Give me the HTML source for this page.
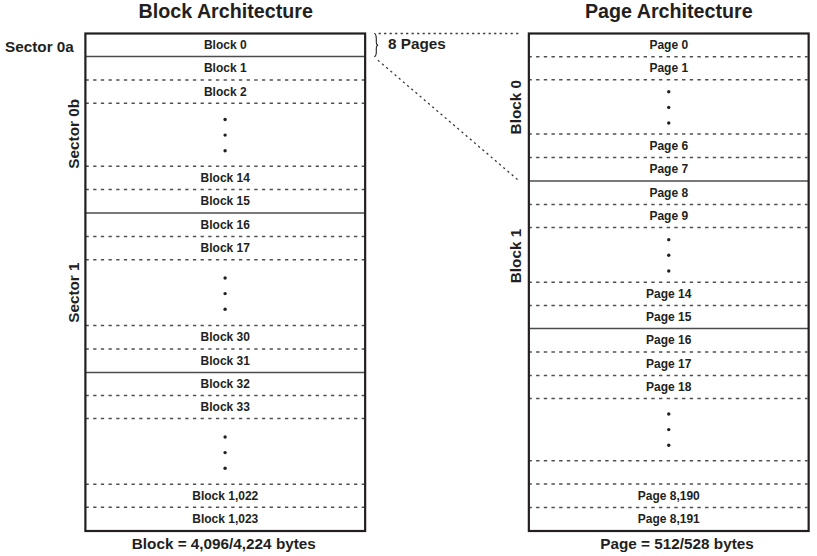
<!DOCTYPE html>
<html><head><meta charset="utf-8"><style>
html,body{margin:0;padding:0;background:#fff;width:817px;height:556px;overflow:hidden}
svg{display:block}
text{font-family:"Liberation Sans",sans-serif;font-weight:bold;fill:#231f20}
.cell{font-size:12px;text-anchor:middle}
.title{font-size:19.7px;text-anchor:middle}
.lab{font-size:15.3px}
.box{fill:none;stroke:#231f20;stroke-width:2.2}
.solid{stroke:#4c4c4c;stroke-width:1.3}
.dash{stroke:#505050;stroke-width:1.5}
.dot{fill:#231f20}
.dotl{stroke:#3a3a3a;stroke-width:1.3;stroke-dasharray:2.2 3.3;fill:none}
.brace{stroke:#231f20;stroke-width:1.1;fill:none}
</style></head><body>
<svg width="817" height="556" viewBox="0 0 817 556">
<text x="225.7" y="17.8" class="title">Block Architecture</text>
<text x="668.8" y="17.8" class="title">Page Architecture</text>
<text x="5" y="51.7" class="lab">Sector 0a</text>
<text x="388" y="48.6" class="lab">8 Pages</text>
<text transform="translate(78.9,133.8) rotate(-90)" class="lab" text-anchor="middle">Sector 0b</text>
<text transform="translate(79.2,292.6) rotate(-90)" class="lab" text-anchor="middle">Sector 1</text>
<text transform="translate(520.8,107.2) rotate(-90)" class="lab" text-anchor="middle">Block 0</text>
<text transform="translate(520.8,256.0) rotate(-90)" class="lab" text-anchor="middle">Block 1</text>
<text x="223.8" y="548.7" class="lab" text-anchor="middle" style="font-size:15.3px">Block = 4,096/4,224 bytes</text>
<text x="677" y="548.7" class="lab" text-anchor="middle" style="font-size:15.3px">Page = 512/528 bytes</text>
<path d="M374.3 33.3 C376.3 34 376.3 36 376.3 39 L376.3 42.5 C376.3 44 377 45 378 45.2 C377 45.4 376.3 46.4 376.3 48 L376.3 52 C376.3 55 376 56.2 374.3 56.7" class="brace"/>
<line x1="378.6" y1="33.5" x2="518.5" y2="33.5" class="dotl"/>
<line x1="377.9" y1="60.2" x2="519.8" y2="181.5" class="dotl" style="stroke-dasharray:2.2 3.3"/>
<line x1="85.4" y1="56.5" x2="365.15" y2="56.5" class="solid"/>
<line x1="85.4" y1="213.0" x2="365.15" y2="213.0" class="solid"/>
<line x1="85.4" y1="372.5" x2="365.15" y2="372.5" class="solid"/>
<line x1="85.5" y1="80.0" x2="364.15" y2="80.0" class="dash" style="stroke-dasharray:3.3 4.372"/>
<line x1="85.5" y1="103.2" x2="364.15" y2="103.2" class="dash" style="stroke-dasharray:3.3 4.372"/>
<line x1="85.5" y1="166.2" x2="364.15" y2="166.2" class="dash" style="stroke-dasharray:3.3 4.372"/>
<line x1="85.5" y1="189.5" x2="364.15" y2="189.5" class="dash" style="stroke-dasharray:3.3 4.372"/>
<line x1="85.5" y1="236.4" x2="364.15" y2="236.4" class="dash" style="stroke-dasharray:3.3 4.372"/>
<line x1="85.5" y1="259.7" x2="364.15" y2="259.7" class="dash" style="stroke-dasharray:3.3 4.372"/>
<line x1="85.5" y1="325.5" x2="364.15" y2="325.5" class="dash" style="stroke-dasharray:3.3 4.372"/>
<line x1="85.5" y1="348.9" x2="364.15" y2="348.9" class="dash" style="stroke-dasharray:3.3 4.372"/>
<line x1="85.5" y1="395.5" x2="364.15" y2="395.5" class="dash" style="stroke-dasharray:3.3 4.372"/>
<line x1="85.5" y1="418.6" x2="364.15" y2="418.6" class="dash" style="stroke-dasharray:3.3 4.372"/>
<line x1="85.5" y1="484.2" x2="364.15" y2="484.2" class="dash" style="stroke-dasharray:3.3 4.372"/>
<line x1="85.5" y1="507.3" x2="364.15" y2="507.3" class="dash" style="stroke-dasharray:3.3 4.372"/>
<rect x="85.4" y="33.5" width="279.75" height="497.50" class="box"/>
<line x1="528.85" y1="181.0" x2="808.65" y2="181.0" class="solid"/>
<line x1="528.85" y1="328.5" x2="808.65" y2="328.5" class="solid"/>
<line x1="528.42" y1="56.7" x2="807.65" y2="56.7" class="dash" style="stroke-dasharray:3.4 4.28"/>
<line x1="528.42" y1="79.7" x2="807.65" y2="79.7" class="dash" style="stroke-dasharray:3.4 4.28"/>
<line x1="528.42" y1="134.1" x2="807.65" y2="134.1" class="dash" style="stroke-dasharray:3.4 4.28"/>
<line x1="528.42" y1="157.4" x2="807.65" y2="157.4" class="dash" style="stroke-dasharray:3.4 4.28"/>
<line x1="528.42" y1="204.5" x2="807.65" y2="204.5" class="dash" style="stroke-dasharray:3.4 4.28"/>
<line x1="528.42" y1="227.6" x2="807.65" y2="227.6" class="dash" style="stroke-dasharray:3.4 4.28"/>
<line x1="528.42" y1="282.2" x2="807.65" y2="282.2" class="dash" style="stroke-dasharray:3.4 4.28"/>
<line x1="528.42" y1="305.4" x2="807.65" y2="305.4" class="dash" style="stroke-dasharray:3.4 4.28"/>
<line x1="528.42" y1="352.1" x2="807.65" y2="352.1" class="dash" style="stroke-dasharray:3.4 4.28"/>
<line x1="528.42" y1="375.4" x2="807.65" y2="375.4" class="dash" style="stroke-dasharray:3.4 4.28"/>
<line x1="528.42" y1="398.4" x2="807.65" y2="398.4" class="dash" style="stroke-dasharray:3.4 4.28"/>
<line x1="528.42" y1="460.7" x2="807.65" y2="460.7" class="dash" style="stroke-dasharray:3.4 4.28"/>
<line x1="528.42" y1="484.1" x2="807.65" y2="484.1" class="dash" style="stroke-dasharray:3.4 4.28"/>
<line x1="528.42" y1="507.4" x2="807.65" y2="507.4" class="dash" style="stroke-dasharray:3.4 4.28"/>
<rect x="528.85" y="33.5" width="279.80" height="497.50" class="box"/>
<text x="225.27499999999998" y="49.00" class="cell">Block 0</text>
<text x="225.27499999999998" y="72.25" class="cell">Block 1</text>
<text x="225.27499999999998" y="95.60" class="cell">Block 2</text>
<text x="225.27499999999998" y="181.85" class="cell">Block 14</text>
<text x="225.27499999999998" y="205.15" class="cell">Block 15</text>
<text x="225.27499999999998" y="228.60" class="cell">Block 16</text>
<text x="225.27499999999998" y="252.00" class="cell">Block 17</text>
<text x="225.27499999999998" y="341.20" class="cell">Block 30</text>
<text x="225.27499999999998" y="364.50" class="cell">Block 31</text>
<text x="225.27499999999998" y="387.85" class="cell">Block 32</text>
<text x="225.27499999999998" y="411.00" class="cell">Block 33</text>
<text x="225.27499999999998" y="499.75" class="cell">Block 1,022</text>
<text x="225.27499999999998" y="522.90" class="cell">Block 1,023</text>
<text x="668.75" y="49.10" class="cell">Page 0</text>
<text x="668.75" y="72.20" class="cell">Page 1</text>
<text x="668.75" y="149.75" class="cell">Page 6</text>
<text x="668.75" y="173.20" class="cell">Page 7</text>
<text x="668.75" y="196.75" class="cell">Page 8</text>
<text x="668.75" y="220.00" class="cell">Page 9</text>
<text x="668.75" y="297.50" class="cell">Page 14</text>
<text x="668.75" y="320.80" class="cell">Page 15</text>
<text x="668.75" y="344.00" class="cell">Page 16</text>
<text x="668.75" y="367.50" class="cell">Page 17</text>
<text x="668.75" y="390.90" class="cell">Page 18</text>
<text x="668.75" y="499.50" class="cell">Page 8,190</text>
<text x="668.75" y="522.60" class="cell">Page 8,191</text>
<circle cx="225.1" cy="119.45" r="1.7" class="dot"/>
<circle cx="225.1" cy="135.10" r="1.7" class="dot"/>
<circle cx="225.1" cy="150.75" r="1.7" class="dot"/>
<circle cx="225.1" cy="277.95" r="1.7" class="dot"/>
<circle cx="225.1" cy="293.60" r="1.7" class="dot"/>
<circle cx="225.1" cy="309.25" r="1.7" class="dot"/>
<circle cx="225.1" cy="436.95" r="1.7" class="dot"/>
<circle cx="225.1" cy="452.60" r="1.7" class="dot"/>
<circle cx="225.1" cy="468.25" r="1.7" class="dot"/>
<circle cx="668.75" cy="91.75" r="1.7" class="dot"/>
<circle cx="668.75" cy="107.40" r="1.7" class="dot"/>
<circle cx="668.75" cy="123.05" r="1.7" class="dot"/>
<circle cx="668.75" cy="239.65" r="1.7" class="dot"/>
<circle cx="668.75" cy="255.30" r="1.7" class="dot"/>
<circle cx="668.75" cy="270.95" r="1.7" class="dot"/>
<circle cx="668.75" cy="413.95" r="1.7" class="dot"/>
<circle cx="668.75" cy="429.60" r="1.7" class="dot"/>
<circle cx="668.75" cy="445.25" r="1.7" class="dot"/>
</svg>
</body></html>
